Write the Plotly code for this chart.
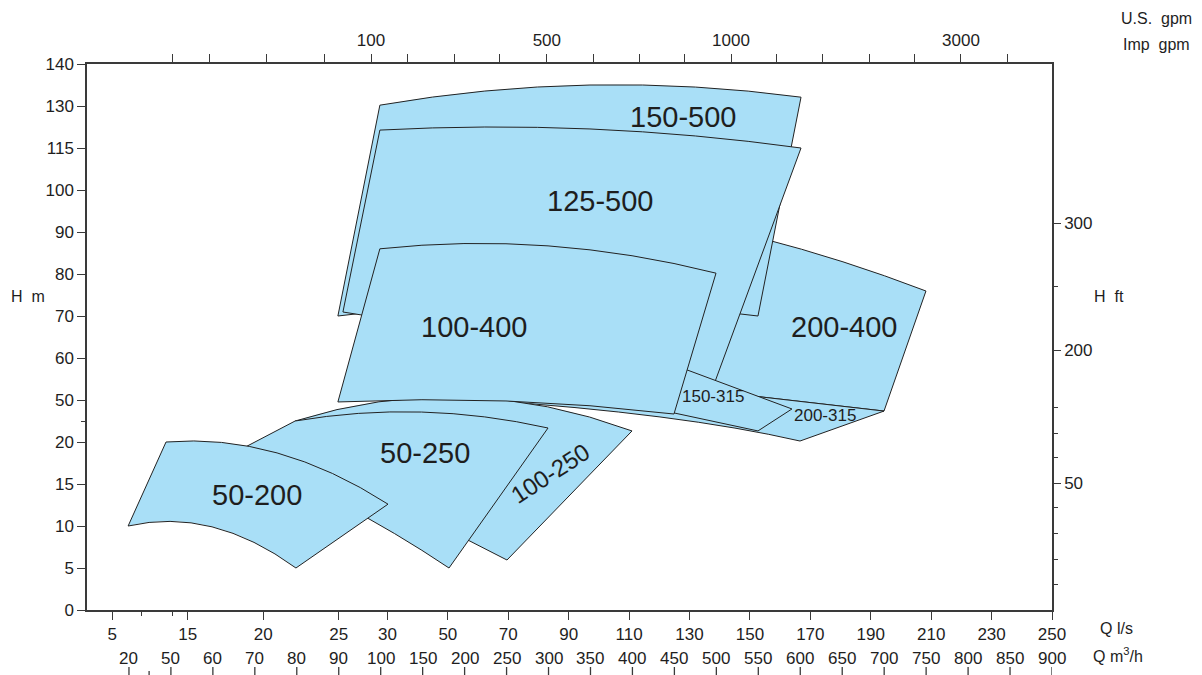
import numpy as np
import plotly.graph_objects as go

# --- scales: the axes are evenly spaced slots carrying uneven values ---
Q_SCALE = [15, 20, 50, 60, 70, 80, 90, 100, 150, 200, 250, 300, 350, 400,
           450, 500, 550, 600, 650, 700, 750, 800, 850, 900]          # m3/h
H_SCALE = [0, 5, 10, 15, 20, 50, 60, 70, 80, 90, 100, 115, 130, 140]  # m

Q_M3H_LABELS = Q_SCALE[1:]
Q_LS_LABELS = [5, 15, 20, 25, 30, 50, 70, 90, 110, 130, 150, 170, 190, 210, 230, 250]
H_FT_LABELS = ['300', '200', '50']
GPM_LABELS = ['100', '500', '1000', '3000']

# decorative tick slots of the top (gpm) and right (ft) scales
GPM_TICK_POS = [2.03, 2.93, 4.29, 5.67, 6.77, 7.65, 8.75, 9.84, 10.96, 12.06,
                13.16, 14.25, 15.35, 16.44, 17.54, 18.64, 19.73, 20.83, 21.95]
GPM_LABEL_POS = [6.77, 10.96, 15.35, 20.83]
FT_LABEL_POS = [9.21, 6.19, 3.02]
FT_MINOR_POS = [7.71, 4.81, 4.21, 3.62, 2.43, 1.83, 1.21, 0.60]

# --- operating envelopes: flow Q (m3/h), head H (m); bend=1 -> edge curves through point ---
q_150_500 = [99.8, 349.4, 600.9, 549.6, 299.4, 89.8]
h_150_500 = [130.2, 135.0, 132.1, 70.0, 73.3, 70.0]
b_150_500 = [0, 1, 0, 0, 1, 0]

q_125_500 = [99.8, 349.4, 600.9, 494.8, 277.9, 91.0]
h_125_500 = [121.4, 121.8, 115.0, 52.4, 63.1, 70.95]
b_125_500 = [0, 1, 0, 0, 1, 0]

q_100_400 = [99.8, 299.4, 499.6, 449.5, 249.3, 89.8]
h_100_400 = [86.0, 86.7, 80.2, 40.0, 49.3, 48.6]
b_100_400 = [0, 1, 0, 0, 1, 0]

q_200_400 = [552.0, 650.9, 749.8, 699.8, 480.5]
h_200_400 = [88.6, 82.9, 75.95, 42.1, 52.4]
b_200_400 = [0, 1, 0, 0, 0]

q_150_315 = [385.2, 590.1, 549.6, 361.3]
h_150_315 = [63.1, 43.6, 27.9, 50.7]
b_150_315 = [0, 0, 0, 0]

q_200_315 = [218.4, 480.5, 699.8, 599.7, 432.8]
h_200_315 = [50.0, 52.4, 42.1, 20.7, 37.9]
b_200_315 = [0, 0, 0, 0, 1]

q_100_250 = [79.6, 198.1, 399.5, 250.5, 92.7]
h_100_250 = [35.0, 50.7, 27.9, 5.95, 15.5]
b_100_250 = [0, 1, 0, 0, 0]

q_50_250 = [79.6, 148.6, 299.4, 181.4, 90.3, 64.1]
h_50_250 = [35.0, 41.4, 30.0, 5.0, 12.7, 18.45]
b_50_250 = [0, 1, 0, 0, 1, 0]

q_50_200 = [19.9, 46.5, 75.3, 108.7, 79.8, 59.8]
h_50_200 = [10.0, 20.0, 18.7, 12.6, 5.0, 9.9]
b_50_200 = [0, 0, 1, 0, 0, 1]


def qpos(q):
    return float(np.interp(q, Q_SCALE, np.arange(len(Q_SCALE))))


def hpos(h):
    return float(np.interp(h, H_SCALE, np.arange(len(H_SCALE))))


def outline_path(qs, hs, bends):
    pts = [(qpos(q), hpos(h)) for q, h in zip(qs, hs)]
    n = len(pts)
    d = f"M {pts[0][0]:.4f},{pts[0][1]:.4f}"
    prev = pts[0]
    i = 1
    while i <= n:
        j = i % n
        if bends[j]:
            end = pts[(j + 1) % n]
            cx = 2 * pts[j][0] - (prev[0] + end[0]) / 2
            cy = 2 * pts[j][1] - (prev[1] + end[1]) / 2
            d += f" Q {cx:.4f},{cy:.4f} {end[0]:.4f},{end[1]:.4f}"
            prev = end
            i += 2
        else:
            d += f" L {pts[j][0]:.4f},{pts[j][1]:.4f}"
            prev = pts[j]
            i += 1
    return d + " Z"


# drawing order, back to front
envelopes = [
    (q_200_400, h_200_400, b_200_400),
    (q_150_500, h_150_500, b_150_500),
    (q_125_500, h_125_500, b_125_500),
    (q_200_315, h_200_315, b_200_315),
    (q_150_315, h_150_315, b_150_315),
    (q_100_250, h_100_250, b_100_250),
    (q_100_400, h_100_400, b_100_400),
    (q_50_250, h_50_250, b_50_250),
    (q_50_200, h_50_200, b_50_200),
]

FILL = '#A9DFF7'
EDGE = '#222222'
AX = '#3a3a3a'
TXT = '#1e1e1e'
FONT = 'Liberation Sans, Arial, sans-serif'

shapes = []
for qs, hs, bs in envelopes:
    shapes.append(dict(type='path', xref='x', yref='y', path=outline_path(qs, hs, bs),
                       fillcolor=FILL, line=dict(color=EDGE, width=1), layer='above'))

# m3/h row: labels with ticks hanging below them
PX_W, PX_H = 965, 546
for qv in Q_M3H_LABELS:
    shapes.append(dict(type='line', xref='x', yref='paper', x0=qpos(qv), x1=qpos(qv),
                       y0=-57 / PX_H, y1=-66 / PX_H, line=dict(color=AX, width=1.3)))
shapes.append(dict(type='line', xref='x', yref='paper', x0=1.48, x1=1.48,
                   y0=-61 / PX_H, y1=-66 / PX_H, line=dict(color=AX, width=1.3)))

annotations = []
for qv in Q_M3H_LABELS:
    annotations.append(dict(x=qpos(qv), y=-48 / PX_H, xref='x', yref='paper', text=str(qv),
                            xanchor='center', yanchor='middle', showarrow=False,
                            font=dict(size=17, color=TXT, family=FONT)))

# envelope labels (Q m3/h, H m)
labels = [
    ('150-500', 460.3, 126.1, 29, 0),
    ('125-500', 361.3, 97.4, 29, 0),
    ('100-400', 211.2, 67.4, 29, 0),
    ('200-400', 652.1, 67.4, 29, 0),
    ('150-315', 496.0, 50.95, 17, 0),
    ('200-315', 629.5, 38.8, 17, 0),
    ('50-250', 152.8, 18.7, 29, 0),
    ('50-200', 70.5, 13.7, 29, 0),
    ('100-250', 301.7, 16.3, 24, -33),
]
for txt, qv, hv, size, ang in labels:
    annotations.append(dict(x=qpos(qv), y=hpos(hv), xref='x', yref='y', text=txt,
                            xanchor='center', yanchor='middle',
                            showarrow=False, textangle=ang,
                            font=dict(size=size, color=TXT, family=FONT)))


def paper(px, py):
    return (px - 87) / PX_W, (610 - py) / PX_H


for txt, px, py in [('H  m', 28, 296), ('H  ft', 1109, 296), ('U.S.  gpm', 1156, 18),
                    ('Imp  gpm', 1156, 45), ('Q l/s', 1116, 628),
                    ('Q m<sup>3</sup>/h', 1118, 655)]:
    x, y = paper(px, py)
    annotations.append(dict(x=x, y=y, xref='paper', yref='paper', text=txt, showarrow=False,
                            xanchor='center', yanchor='middle',
                            font=dict(size=16, color=TXT, family=FONT)))

fig = go.Figure()
fig.add_trace(go.Scatter(x=[None], y=[None], showlegend=False, hoverinfo='skip'))
fig.add_trace(go.Scatter(x=[None], y=[None], xaxis='x2', yaxis='y2',
                         showlegend=False, hoverinfo='skip'))

tickfont = dict(size=17, color=TXT, family=FONT)
axis_common = dict(showline=True, linecolor=AX, linewidth=1.5, showgrid=False,
                   zeroline=False, ticks='outside', tickcolor=AX, tickwidth=1.3,
                   tickfont=tickfont, fixedrange=True)

# the page body adds an 8px offset, so the figure is 8px smaller on the top/left
fig.update_layout(
    width=1194, height=667, autosize=False,
    margin=dict(l=79, r=150, t=56, b=65),
    paper_bgcolor='white', plot_bgcolor='white',
    showlegend=False,
    xaxis=dict(range=[0, 23], tickmode='array',
               tickvals=[qpos(v * 3.6) for v in Q_LS_LABELS],
               ticktext=[str(v) for v in Q_LS_LABELS], ticklen=8,
               minor=dict(tickmode='array', tickvals=[1.31, 2.03], ticklen=4,
                          ticks='outside', tickcolor=AX, tickwidth=1.3),
               **axis_common),
    yaxis=dict(range=[0, 13], tickmode='array',
               tickvals=[hpos(v) for v in H_SCALE],
               ticktext=[str(v) for v in H_SCALE], ticklen=8,
               minor=dict(tickmode='array', tickvals=[4.5], ticklen=4,
                          ticks='outside', tickcolor=AX, tickwidth=1.3),
               **axis_common),
    xaxis2=dict(range=[0, 23], overlaying='x', side='top', anchor='y', tickmode='array',
                tickvals=GPM_TICK_POS,
                ticktext=[GPM_LABELS[GPM_LABEL_POS.index(p)] if p in GPM_LABEL_POS else ''
                          for p in GPM_TICK_POS],
                ticklen=8, ticklabelstandoff=1, **axis_common),
    yaxis2=dict(range=[0, 13], overlaying='y', side='right', anchor='x', tickmode='array',
                tickvals=FT_LABEL_POS, ticktext=H_FT_LABELS, ticklen=7,
                minor=dict(tickmode='array', tickvals=FT_MINOR_POS, ticklen=4,
                           ticks='outside', tickcolor=AX, tickwidth=1.3),
                **axis_common),
    shapes=shapes,
    annotations=annotations,
)

fig.write_html("out.html")
